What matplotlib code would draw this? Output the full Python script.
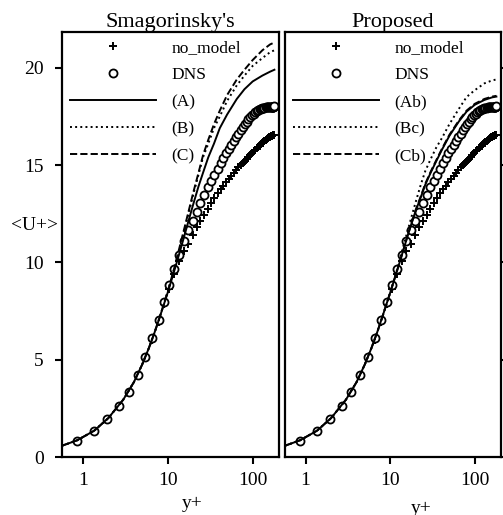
import matplotlib.pyplot as plt
from matplotlib.ticker import FixedLocator, NullLocator, FixedFormatter

plt.rcParams['font.family'] = ['Liberation Serif', 'DejaVu Serif']

# DNS profile (open circles)
dns_y = [0.86, 1.36, 1.94, 2.68, 3.47, 4.42, 5.44, 6.58, 7.83, 9.12, 10.4, 11.9, 13.7,
         15.5, 17.5, 19.6, 21.9, 24.3, 26.9, 29.6, 32.5, 35.5, 38.6, 41.9, 45.3, 48.8,
         52.4, 56.1, 59.9, 63.8, 67.8, 71.9, 76.1, 80.3, 84.6, 89.0, 93.4, 97.8, 102.3,
         106.8, 111.3, 115.8, 120.3, 124.7, 129.1, 133.4, 137.6, 141.7, 145.7, 149.5,
         153.1, 156.5, 159.7, 162.6, 165.3, 167.7, 169.8, 171.6, 173.1, 174.3, 175.2, 179.5]
dns_u = [0.84, 1.34, 1.94, 2.62, 3.36, 4.21, 5.15, 6.10, 7.04, 7.98, 8.84, 9.66, 10.38,
         11.10, 11.65, 12.15, 12.60, 13.05, 13.45, 13.85, 14.20, 14.50, 14.80, 15.10, 15.35, 15.60,
         15.85, 16.05, 16.25, 16.45, 16.60, 16.80, 16.95, 17.10, 17.20, 17.35, 17.45, 17.55, 17.65,
         17.72, 17.78, 17.83, 17.87, 17.90, 17.92, 17.94, 17.95, 17.96, 17.97, 17.98,
         17.98, 17.99, 17.99, 17.99, 18.00, 18.00, 18.00, 18.00, 18.00, 18.00, 18.00, 18.02]

# no model LES (plus markers)
nomodel_u = [0.84, 1.33, 1.92, 2.60, 3.33, 4.17, 5.10, 6.03, 6.95, 7.85, 8.65, 9.40, 10.05,
             10.60, 10.95, 11.40, 11.80, 12.15, 12.45, 12.75, 13.05, 13.30, 13.55, 13.75, 13.95, 14.15,
             14.30, 14.45, 14.60, 14.75, 14.90, 15.00, 15.10, 15.20, 15.30, 15.40, 15.50, 15.60, 15.70,
             15.80, 15.88, 15.95, 16.00, 16.08, 16.14, 16.20, 16.25, 16.30, 16.34, 16.38,
             16.41, 16.44, 16.46, 16.48, 16.50, 16.51, 16.52, 16.53, 16.54, 16.55, 16.55, 16.56]

# model curves
les_y = [0.57, 0.86, 1.36, 2, 3, 4, 5, 6, 7, 8, 10, 12, 14, 16, 18, 20, 23, 26, 30,
         35, 41, 50, 65, 80, 100, 130, 160, 180]
smag_a = [0.58, 0.86, 1.35, 2.0, 2.95, 3.85, 4.75, 5.6, 6.4, 7.15, 8.45, 9.6, 10.6, 11.5,
          12.3, 13.0, 13.9, 14.6, 15.4, 16.1, 16.9, 17.6, 18.4, 18.9, 19.3, 19.6, 19.8, 19.9]
smag_b = [0.58, 0.86, 1.35, 2.0, 2.95, 3.85, 4.75, 5.6, 6.4, 7.15, 8.5, 9.7, 10.8, 11.8,
          12.7, 13.5, 14.5, 15.4, 16.1, 16.9, 17.5, 18.3, 19.1, 19.6, 20.1, 20.5, 20.8, 20.9]
smag_c = [0.58, 0.86, 1.35, 2.0, 2.95, 3.85, 4.75, 5.6, 6.4, 7.15, 8.5, 9.75, 10.9, 11.9,
          12.8, 13.6, 14.6, 15.5, 16.3, 17.1, 17.8, 18.6, 19.4, 19.9, 20.4, 20.9, 21.2, 21.3]
prop_ab = [0.58, 0.86, 1.35, 2.0, 2.95, 3.85, 4.75, 5.6, 6.4, 7.15, 8.45, 9.55, 10.5, 11.35,
           12.05, 12.65, 13.35, 14.0, 14.6, 15.2, 15.8, 16.5, 17.25, 17.75, 18.1, 18.35, 18.48, 18.52]
prop_bc = [0.58, 0.86, 1.35, 2.0, 2.95, 3.85, 4.75, 5.6, 6.4, 7.15, 8.45, 9.6, 10.7, 11.6,
           12.4, 13.1, 14.0, 14.7, 15.3, 15.9, 16.4, 17.1, 17.9, 18.5, 18.85, 19.2, 19.35, 19.4]
prop_cb = [0.58, 0.86, 1.35, 2.0, 2.95, 3.85, 4.75, 5.6, 6.4, 7.15, 8.45, 9.55, 10.5, 11.35,
           12.05, 12.7, 13.4, 14.05, 14.65, 15.25, 15.85, 16.55, 17.3, 17.8, 18.15, 18.4, 18.52, 18.56]

panels = [
    ("Smagorinsky's", [smag_a, smag_b, smag_c], ['(A)', '(B)', '(C)']),
    ('Proposed', [prop_ab, prop_bc, prop_cb], ['(Ab)', '(Bc)', '(Cb)']),
]
styles = ['-', ':', '--']

fig = plt.figure(figsize=(5.03, 5.15), dpi=100)
ax1 = fig.add_axes([0.1233, 0.1126, 0.4314, 0.8253])
ax2 = fig.add_axes([0.5666, 0.1126, 0.4294, 0.8253])

for ax, (title, curves, labels) in zip([ax1, ax2], panels):
    ax.plot(dns_y, nomodel_u, '+', color='black', markersize=5.5, markeredgewidth=1.4,
            label='no_model')
    ax.plot(dns_y, dns_u, 'o', color='black', markerfacecolor='white', markersize=5.8,
            markeredgewidth=1.3, label='DNS')
    for u, ls, lab in zip(curves, styles, labels):
        ax.plot(les_y, u, ls, color='black', linewidth=1.4, label=lab)

    ax.set_xscale('log')
    ax.set_xlim(0.57, 204)
    ax.set_ylim(0, 21.84)
    ax.xaxis.set_major_locator(FixedLocator([1, 10, 100]))
    ax.xaxis.set_major_formatter(FixedFormatter(['1', '10', '100']))
    ax.xaxis.set_minor_locator(NullLocator())
    ax.set_yticks([0, 5, 10, 15, 20])
    ax.tick_params(direction='out', length=5, width=1.5, labelsize=14, pad=8)
    ax.tick_params(axis='x', pad=6)
    for s in ax.spines.values():
        s.set_linewidth(1.6)
    ax.set_title(title, fontsize=16, pad=3)
    ax.legend(loc='upper left', frameon=False, fontsize=12.5, handlelength=4.95,
              handletextpad=0.9, labelspacing=0.63, borderaxespad=0.2, borderpad=0.25,
              numpoints=1)

ax1.set_ylabel('<U+>', fontsize=14, rotation=0, va='center', ha='center')
ax1.yaxis.set_label_coords(-0.125, 0.545)
ax1.set_xlabel('y+', fontsize=14)
ax1.xaxis.set_label_coords(0.6, -0.09)

ax2.yaxis.tick_right()
ax2.tick_params(axis='y', labelright=False)
ax2.set_xlabel('y+', fontsize=14)
ax2.xaxis.set_label_coords(0.63, -0.10)

fig.savefig('out.png', dpi=100)
